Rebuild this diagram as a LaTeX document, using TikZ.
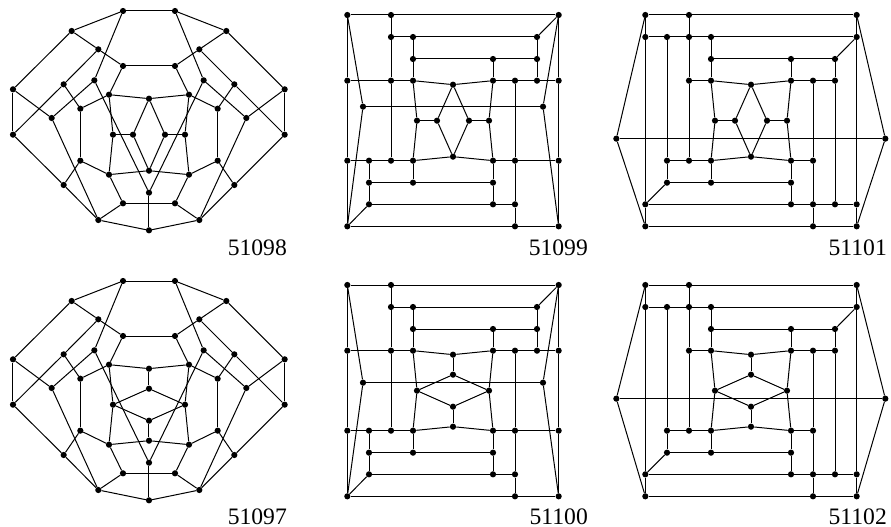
\documentclass[tikz,border=0pt]{standalone}
\usepackage{fontspec}
\setmainfont{Liberation Serif}
\tikzset{
  pt/.style={circle,fill=black,draw=none,inner sep=0pt,minimum size=6.2pt},
  edge/.style={draw=black,line width=1pt},
  lab/.style={anchor=base east,inner sep=0pt,font=\fontsize{23.6}{24}\selectfont},
  zoomed/.style={x=0.33333pt,y=-0.33333pt}
}
% panel family A: the rounded drawing
\def\ptsA{t1/369/33,t2/525/33,u1/215/93,u2/679/93,v1/295/148,v2/598/148,w1/369/198,w2/525/198,
x1/191/253,x2/703/253,y1/283/241,y2/611/241,o1/39/268,o2/854/268,o3/39/404,o4/854/404,
p1/327/284,p2/567/284,q/447/296,r1/241/326,r2/653/326,s1/155/354,s2/739/354,
c1/339/404,c4/555/404,e1/241/482,e2/653/482,f1/327/524,f2/567/524,g/447/512,
h1/191/555,h2/703/555,i/447/578,j1/369/610,j2/525/610,k1/295/660,k2/598/660,l/447/691}
\def\edA{t1/t2,t1/u1,t2/u2,t1/y1,t2/y2,u1/o1,u2/o2,u1/v1,u2/v2,v1/w1,v2/w2,w1/w2,
v1/x1,v2/x2,x1/o3,x2/o4,x1/r1,x2/r2,y1/s1,y2/s2,y1/i,y2/i,s1/o1,s2/o2,s1/k1,s2/k2,
o1/o3,o2/o4,o3/h1,o4/h2,h1/k1,h2/k2,h1/e1,h2/e2,e1/r1,e2/r2,r1/p1,r2/p2,e1/f1,e2/f2,
p1/w1,p2/w2,p1/q,p2/q,p1/c1,p2/c4,c1/f1,c4/f2,g/f1,g/f2,f1/j1,f2/j2,j1/j2,j1/k1,j2/k2,
k1/l,k2/l,i/l}
% panel family B: the square drawing
\def\ptsB{A/52/45,B/183/45,C/686/45,D/183/111,E/249/111,F/621/111,G/249/177,H/489/177,I/621/177,
J/52/242,K/183/242,L/249/242,M/489/242,N/555/242,O/621/242,P/686/242,Q/369/254,
T/261/362,W/477/362,X/369/470,a/52/482,b/117/482,c/183/482,d/249/482,e/489/482,f/555/482,g/686/482,
h/117/548,i/249/548,j/489/548,k/117/613,l/489/613,m/555/613,n/52/679,o/555/679,p/686/679}
\def\edB{A/B,B/C,A/J,J/a,a/n,A/R,R/n,R/S,S/C,S/p,C/P,P/g,g/p,C/F,F/E,E/D,D/B,D/K,K/c,E/G,G/L,
G/H,H/I,F/I,I/O,H/M,J/K,K/L,L/Q,Q/M,M/N,N/O,O/P,N/f,f/m,m/o,o/n,o/p,L/T,T/d,W/M,W/e,d/X,X/e,
a/b,b/c,c/d,d/i,i/h,i/j,j/e,j/l,l/m,l/k,k/h,h/b,k/n,e/f,f/g}
% panel family C: the hexagonal drawing
\def\ptsC{A/136/45,B/267/45,C/770/45,D/136/111,E/201/111,F/267/111,G/333/111,H/770/111,
I/333/177,J/573/177,K/705/177,L/267/242,M/333/242,N/573/242,O/639/242,P/705/242,Q/453/254,
T/345/362,W/561/362,X/453/470,a/201/482,b/267/482,c/333/482,d/573/482,e/639/482,
f/201/548,g/333/548,h/573/548,i/136/613,j/573/613,k/639/613,l/705/613,m/770/613,
n/136/679,o/639/679,p/770/679}
\def\edC{A/B,B/C,A/R,R/n,C/S,S/p,R/S,A/D,D/i,i/n,C/H,H/m,m/p,n/o,o/p,D/E,E/F,F/G,G/H,B/F,F/L,
L/M,M/Q,Q/N,N/O,O/P,G/I,I/M,I/J,J/K,K/H,J/N,K/P,P/l,O/e,e/k,k/o,E/a,a/f,a/b,b/c,c/X,X/d,d/e,
L/b,c/g,f/g,g/h,h/d,h/j,f/i,i/j,j/k,k/l,l/m,M/T,T/c,N/W,W/d}
\newcommand{\putpts}[1]{\foreach \nn/\px/\py in #1 {\node[pt] (\nn) at (\px,\py) {};}}
\newcommand{\putedges}[1]{\foreach \ea/\eb in #1 {\draw[edge] (\ea) -- (\eb);}}
\begin{document}
\begin{tikzpicture}[x=1pt,y=-1pt]
\useasboundingbox (0,0) rectangle (891,527);
% 51098
\begin{scope}[shift={(0pt,0pt)},zoomed,name prefix=p1-]
  \putpts{\ptsA}
  \putpts{{c2/399/404,c3/495/404}}
  \putedges{\edA}
  \putedges{{c1/c2,c2/q,c2/g,c4/c3,c3/q,c3/g}}
\end{scope}
% 51097
\begin{scope}[shift={(0pt,-270pt)},zoomed,name prefix=p4-]
  \putpts{\ptsA}
  \putpts{{ca/447/356,cb/447/452}}
  \putedges{\edA}
  \putedges{{q/ca,ca/c1,ca/c4,c1/cb,c4/cb,cb/g}}
\end{scope}
% 51099
\begin{scope}[shift={(330pt,0pt)},zoomed,name prefix=p2-]
  \putpts{\ptsB}
  \putpts{{R/99/320,S/639/320,U/321/362,V/417/362}}
  \putedges{\edB}
  \putedges{{T/U,U/Q,U/X,Q/V,V/X,V/W}}
\end{scope}
% 51100
\begin{scope}[shift={(330pt,-270pt)},zoomed,name prefix=p5-]
  \putpts{\ptsB}
  \putpts{{R/99/338,S/639/338,qa/369/314,qb/369/410}}
  \putedges{\edB}
  \putedges{{T/qa,qa/W,T/qb,qb/W,Q/qa,qb/X}}
\end{scope}
% 51101
\begin{scope}[shift={(600pt,0pt)},zoomed,name prefix=p3-]
  \putpts{\ptsC}
  \putpts{{R/49/416,S/856/416,U/405/362,V/501/362}}
  \putedges{\edC}
  \putedges{{T/U,U/Q,U/X,Q/V,V/X,V/W}}
\end{scope}
% 51102
\begin{scope}[shift={(600pt,-270pt)},zoomed,name prefix=p6-]
  \putpts{\ptsC}
  \putpts{{R/49/386,S/856/386,qa/453/314,qb/453/410}}
  \putedges{\edC}
  \putedges{{T/qa,qa/W,T/qb,qb/W,Q/qa,qb/X}}
\end{scope}
\node[lab] (l1) at (287,255) {51098};
\node[lab] (l2) at (588,255) {51099};
\node[lab] (l3) at (887,255) {51101};
\node[lab] (l4) at (287,524) {51097};
\node[lab] (l5) at (588,524) {51100};
\node[lab] (l6) at (887,524) {51102};
\end{tikzpicture}
\end{document}
